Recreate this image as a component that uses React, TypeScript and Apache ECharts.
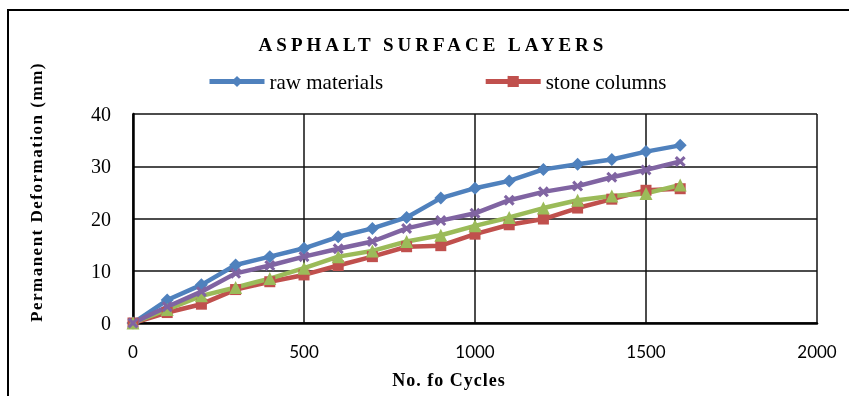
import React, { useEffect, useRef } from "react";
import * as echarts from "echarts";

const cycles = [0, 100, 200, 300, 400, 500, 600, 700, 800, 900, 1000, 1100, 1200, 1300, 1400, 1500, 1600];
const rawMaterials = [0, 4.4, 7.3, 11.1, 12.7, 14.3, 16.5, 18.1, 20.2, 23.9, 25.8, 27.2, 29.4, 30.4, 31.3, 32.8, 34.0];
const stoneColumns = [0, 2.0, 3.6, 6.4, 7.9, 9.2, 11.0, 12.7, 14.6, 14.8, 17.0, 18.8, 19.9, 22.0, 23.7, 25.4, 25.7];
const series3 = [0, 2.6, 5.2, 6.8, 8.5, 10.5, 12.7, 13.8, 15.6, 16.8, 18.6, 20.2, 22.0, 23.5, 24.3, 24.8, 26.4];
const series4 = [0, 3.1, 6.0, 9.5, 11.0, 12.7, 14.2, 15.6, 18.1, 19.6, 21.0, 23.5, 25.1, 26.2, 27.9, 29.3, 30.9];

const seriesNames = ["raw materials", "stone columns", "Series3", "Series4"];
const legendNames = ["raw materials", "stone columns"];
const titleText = "ASPHALT SURFACE LAYERS";
const xName = "No. fo Cycles";
const yName = "Permanent Deformation (mm)";

const CROSS = "path://M0,2L2,0L5,3L8,0L10,2L7,5L10,8L8,10L5,7L2,10L0,8L3,5Z";

export default function App() {
  const ref = useRef<HTMLDivElement>(null);
  useEffect(() => {
    if (!ref.current) return;
    const chart = echarts.init(ref.current, null, { renderer: "svg" });
    const pair = (arr: number[]) => cycles.map((c, i) => [c, arr[i]]);
    const mk = (name: string, arr: number[], color: string, symbol: string, size: number) => ({
      name,
      type: "line",
      data: pair(arr),
      symbol,
      symbolSize: size,
      lineStyle: { color, width: 4.5 },
      itemStyle: { color },
      z: 3,
    });
    chart.setOption({
      animation: false,
      grid: { left: 133, right: 32, top: 114, bottom: 73 },
      legend: {
        data: legendNames,
        left: 202,
        top: 66,
        itemWidth: 55,
        itemHeight: 14,
        itemGap: 100,
        lineStyle: { width: 5 },
        textStyle: { fontFamily: "Liberation Serif", fontSize: 21, color: "#000" },
      },
      xAxis: {
        type: "value",
        min: 0,
        max: 2000,
        interval: 500,
        axisLine: { show: true, lineStyle: { color: "#000", width: 2.5 } },
        axisTick: { show: false },
        axisLabel: {
          fontFamily: "Lato",
          fontSize: 17,
          color: "#000",
          margin: 20,
          formatter: (v: number) => String(v),
        },
        splitLine: { show: true, lineStyle: { color: "#111", width: 1.5 } },
      },
      yAxis: {
        type: "value",
        min: 0,
        max: 40,
        interval: 10,
        axisLine: { show: true, lineStyle: { color: "#000", width: 2.5 } },
        axisTick: { show: false },
        axisLabel: { fontFamily: "Liberation Serif", fontSize: 20, color: "#000", margin: 22 },
        splitLine: { show: true, lineStyle: { color: "#111", width: 1.5 } },
      },
      graphic: [
        {
          type: "rect",
          shape: { x: 8, y: 10, width: 900, height: 420 },
          style: { fill: "none", stroke: "#000", lineWidth: 2 },
          silent: true,
        },
        {
          type: "text",
          x: 433,
          y: 44,
          style: {
            text: titleText,
            font: 'bold 19px "Liberation Serif"',
            fill: "#000",
            textAlign: "center",
            textVerticalAlign: "middle",
          },
        },
        {
          type: "text",
          x: 449,
          y: 380,
          style: {
            text: xName,
            font: 'bold 18px "Liberation Serif"',
            fill: "#000",
            textAlign: "center",
            textVerticalAlign: "middle",
          },
        },
        {
          type: "text",
          x: 36,
          y: 192,
          rotation: Math.PI / 2,
          style: {
            text: yName,
            font: 'bold 17px "Liberation Serif"',
            fill: "#000",
            textAlign: "center",
            textVerticalAlign: "middle",
          },
        },
      ],
      series: [
        mk(seriesNames[0], rawMaterials, "#4F81BD", "diamond", 13),
        mk(seriesNames[1], stoneColumns, "#C0504D", "rect", 11),
        mk(seriesNames[2], series3, "#9BBB59", "triangle", 13),
        mk(seriesNames[3], series4, "#8064A2", CROSS, 11),
      ],
    });
    const spacing = () => {
      const texts = ref.current?.querySelectorAll("text") || [];
      texts.forEach((t: any) => {
        const s = t.textContent;
        if (s === titleText) t.style.letterSpacing = "4px";
        else if (s === yName) t.style.letterSpacing = "1.5px";
        else if (s === xName) t.style.letterSpacing = "1px";
      });
    };
    spacing();
    chart.on("finished", spacing);
    return () => chart.dispose();
  }, []);
  return <div ref={ref} style={{ position: "fixed", left: 0, top: 0, width: 849, height: 396 }} />;
}
